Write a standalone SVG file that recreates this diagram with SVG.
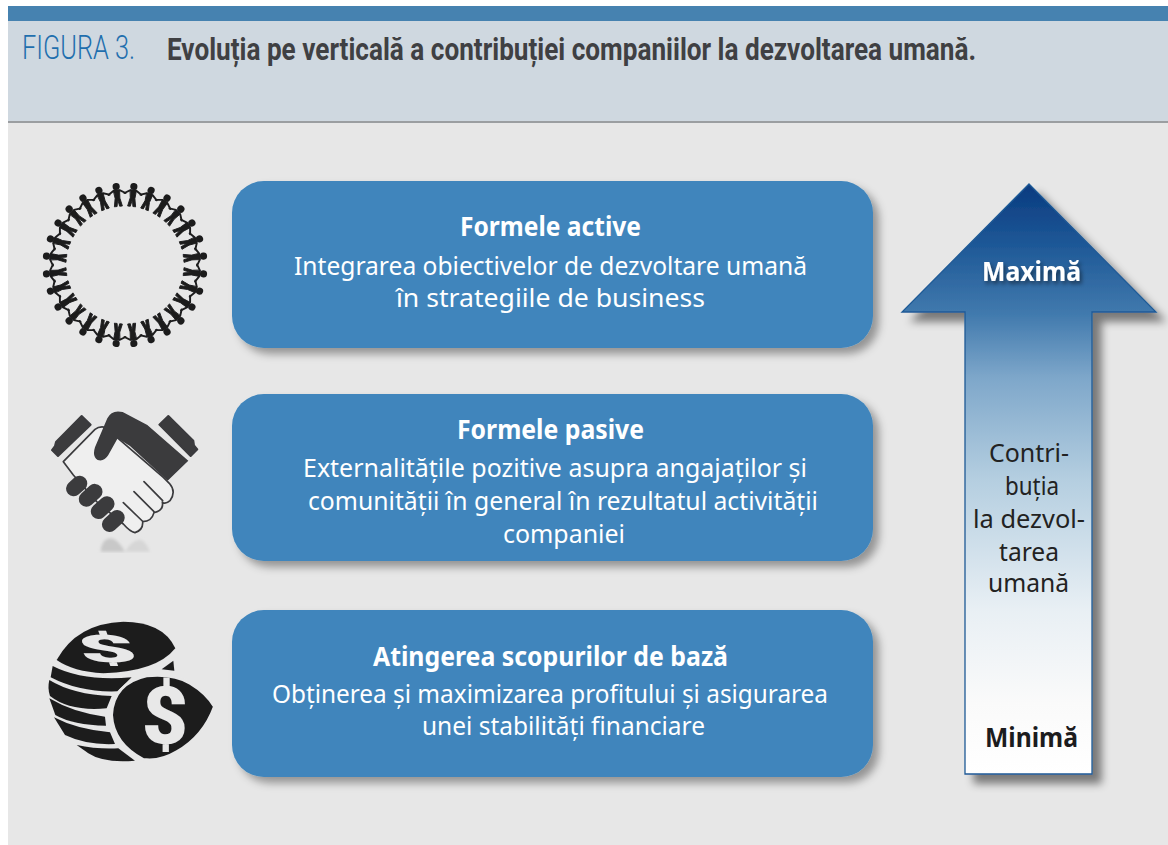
<svg xmlns="http://www.w3.org/2000/svg" xmlns:xlink="http://www.w3.org/1999/xlink" width="1168" height="845" viewBox="0 0 1168 845">
<style>
.box{fill:#3f85bc}
.b{font-family:"Noto Sans","Open Sans",sans-serif;font-size:26px;fill:#fff}
.h{font-family:"Noto Sans","Open Sans",sans-serif;font-size:26px;font-weight:700;fill:#fff}
.a{font-family:"Noto Sans","Open Sans",sans-serif;font-size:26px;fill:#222}
.m{font-family:"Noto Sans","Open Sans",sans-serif;font-size:26px;font-weight:700}
.ic{fill:#3a3a3d}
.co{fill:#1c1c1e}
</style>
<defs>
<filter id="sh" x="-10%" y="-10%" width="125%" height="130%"><feDropShadow dx="6" dy="6" stdDeviation="4" flood-color="#000" flood-opacity=".36"/></filter>
<filter id="sa" x="-15%" y="-10%" width="130%" height="125%"><feDropShadow dx="9" dy="9" stdDeviation="4.5" flood-color="#000" flood-opacity=".48"/></filter>
<filter id="ts"><feDropShadow dx="2" dy="3" stdDeviation="2" flood-color="#000" flood-opacity=".5"/></filter>
<filter id="bl"><feGaussianBlur stdDeviation=".5"/></filter>
<filter id="bl2"><feGaussianBlur stdDeviation="4"/></filter>
<linearGradient id="ag" gradientUnits="userSpaceOnUse" x1="0" y1="183" x2="0" y2="774">
<stop offset="0" stop-color="#093a7f"/><stop offset=".1" stop-color="#1d5796"/><stop offset=".22" stop-color="#4079ad"/><stop offset=".33" stop-color="#7ea7ca"/><stop offset=".5" stop-color="#b4cee0"/><stop offset=".72" stop-color="#e8eff4"/><stop offset=".88" stop-color="#fafafa"/><stop offset="1" stop-color="#fff"/>
</linearGradient>
<g id="p" fill="#1c1c1e" stroke="#1c1c1e" stroke-linecap="round" stroke-linejoin="round">
<circle cx="0" cy="-79" r="3.6" stroke="none"/>
<path d="M-8.6-71.5 L-3-75 L3-75 L8.6-71.5" fill="none" stroke-width="1.9"/>
<path d="M-3-75 L3-75 L2.4-67 L4-59 L1.3-59 L0-66 L-1.3-59 L-4-59 L-2.4-67 Z" stroke-width=".9"/>
</g>
</defs>
<rect width="1168" height="845" fill="#fff"/>
<g id="panel">
<rect x="8" y="21" width="1160" height="824" fill="#e7e7e7"/>
<rect x="8" y="6" width="1160" height="15" fill="#4682b0"/>
<rect x="8" y="21" width="1160" height="100" fill="#cfd8e0"/>
<rect x="8" y="121" width="1160" height="2" fill="#9b9ea1"/>
</g>
<g id="title">
<text x="22" y="59" font-family="Roboto,sans-serif" font-weight="300" font-size="33" fill="#1f6fae" textLength="113" lengthAdjust="spacingAndGlyphs">FIGURA 3.</text>
<text x="167" y="60" font-family="Roboto,sans-serif" font-weight="700" font-size="31" fill="#3f4043" textLength="809" lengthAdjust="spacingAndGlyphs">Evoluția pe verticală a contribuției companiilor la dezvoltarea umană.</text>
</g>
<g id="connectors"></g>
<g id="icon-people" transform="translate(125 265)" filter="url(#bl)">
<use xlink:href="#p" transform="rotate(6.43)"/><use xlink:href="#p" transform="rotate(19.29)"/><use xlink:href="#p" transform="rotate(32.14)"/><use xlink:href="#p" transform="rotate(45)"/><use xlink:href="#p" transform="rotate(57.86)"/><use xlink:href="#p" transform="rotate(70.71)"/><use xlink:href="#p" transform="rotate(83.57)"/><use xlink:href="#p" transform="rotate(96.43)"/><use xlink:href="#p" transform="rotate(109.29)"/><use xlink:href="#p" transform="rotate(122.14)"/><use xlink:href="#p" transform="rotate(135)"/><use xlink:href="#p" transform="rotate(147.86)"/><use xlink:href="#p" transform="rotate(160.71)"/><use xlink:href="#p" transform="rotate(173.57)"/><use xlink:href="#p" transform="rotate(186.43)"/><use xlink:href="#p" transform="rotate(199.29)"/><use xlink:href="#p" transform="rotate(212.14)"/><use xlink:href="#p" transform="rotate(225)"/><use xlink:href="#p" transform="rotate(237.86)"/><use xlink:href="#p" transform="rotate(250.71)"/><use xlink:href="#p" transform="rotate(263.57)"/><use xlink:href="#p" transform="rotate(276.43)"/><use xlink:href="#p" transform="rotate(289.29)"/><use xlink:href="#p" transform="rotate(302.14)"/><use xlink:href="#p" transform="rotate(315)"/><use xlink:href="#p" transform="rotate(327.86)"/><use xlink:href="#p" transform="rotate(340.71)"/><use xlink:href="#p" transform="rotate(353.57)"/>
</g>
<g id="icon-handshake" transform="translate(30 390) scale(.3333)">
<g filter="url(#bl2)" fill="#c8c8c8"><path d="M212 485 Q215 445 245 445 Q265 450 285 485Z"/><path d="M285 485 Q310 445 335 450 Q350 460 360 485Z" fill="#d6d6d6"/></g>
<g filter="url(#bl)">
<path d="M100 215 L195 118 Q208 108 226 112 L400 262 L418 280 Q440 305 420 332 Q405 345 397 336 Q402 362 372 368 Q365 395 338 395 Q340 420 315 428 Q300 425 280 402 L200 335 L130 255 Z" fill="#efefef" stroke="#3a3a3d" stroke-width="5" stroke-linejoin="round"/>
<path d="M342 275 L398 332 M312 305 L372 365 M280 338 L337 393" fill="none" stroke="#3a3a3d" stroke-width="5" stroke-linecap="round"/>
<path class="ic" stroke="#3a3a3d" stroke-width="6" stroke-linejoin="round" d="M155 78 L182 104 L84 198 L66 180 L75 168 L78 156Z"/>
<path class="ic" stroke="#3a3a3d" stroke-width="6" stroke-linejoin="round" d="M415 78 L388 104 L482 198 L502 178 L492 166 L490 152Z"/>
<path class="ic" d="M232 85 Q245 58 278 66 L352 105 L475 212 L413 272 L300 168 L263 145 L235 195 Q222 216 203 210 Q186 200 195 172 Z"/>
<g class="ic"><rect x="105" y="265" width="70" height="46" rx="23" transform="rotate(-42 140 288)"/><rect x="142" y="293" width="80" height="46" rx="23" transform="rotate(-42 182 316)"/><rect x="178" y="330" width="80" height="46" rx="23" transform="rotate(-42 218 353)"/><rect x="212" y="370" width="76" height="46" rx="23" transform="rotate(-42 250 393)"/></g>
</g>
</g>
<g id="icon-coins" transform="translate(30 600) scale(.3333)" filter="url(#bl)">
<g class="co">
<path d="M68 198 Q160 245 305 232 L262 274 Q150 278 62 232Z"/>
<path d="M58 240 Q130 284 245 288 L230 325 Q120 335 60 288 Q52 265 58 240Z"/>
<path d="M58 295 Q130 338 225 350 L228 377 Q130 376 76 345Z"/>
<path d="M72 352 Q140 388 240 397 L255 432 Q170 436 105 405Z"/>
<path d="M140 435 Q200 448 265 445 L315 482 Q220 490 175 460Z"/>
<path d="M395 208 L430 182 L433 212Z"/>
<path d="M80 180 Q140 70 280 65 Q400 65 436 145 Q380 215 220 220 Q130 215 80 180Z"/>
<path d="M245 345 Q250 250 350 228 Q430 220 480 250 Q530 280 553 320 Q520 410 440 455 Q390 485 340 478 Q250 430 245 345Z" stroke="#e7e7e7" stroke-width="8"/>
</g>
<text transform="translate(245 186) scale(2.5 .95) skewX(8)" text-anchor="middle" font-family="Roboto,sans-serif" font-weight="900" font-size="120" fill="#e8e8e8">$</text>
<text transform="translate(405 432)" text-anchor="middle" font-family="Roboto,sans-serif" font-weight="900" font-size="240" fill="#e8e8e8">$</text>
</g>
<g id="box-active">
<rect class="box" x="232" y="181" width="641" height="167" rx="32" filter="url(#sh)"/>
<text class="h" x="460" y="236" textLength="181" lengthAdjust="spacingAndGlyphs">Formele active</text>
<text class="b" x="294" y="275" textLength="513" lengthAdjust="spacingAndGlyphs">Integrarea obiectivelor de dezvoltare umană</text>
<text class="b" x="396" y="307" textLength="309" lengthAdjust="spacingAndGlyphs">în strategiile de business</text>
</g>
<g id="box-pasive">
<rect class="box" x="232" y="394" width="641" height="167" rx="32" filter="url(#sh)"/>
<text class="h" x="457" y="439" textLength="187" lengthAdjust="spacingAndGlyphs">Formele pasive</text>
<text class="b" x="303" y="477" textLength="504" lengthAdjust="spacingAndGlyphs">Externalitățile pozitive asupra angajaților și</text>
<text class="b" x="308" y="510" textLength="510" lengthAdjust="spacingAndGlyphs">comunității în general în rezultatul activității</text>
<text class="b" x="503" y="543" textLength="122" lengthAdjust="spacingAndGlyphs">companiei</text>
</g>
<g id="box-baza">
<rect class="box" x="232" y="610" width="641" height="167" rx="32" filter="url(#sh)"/>
<text class="h" x="373" y="666" textLength="355" lengthAdjust="spacingAndGlyphs">Atingerea scopurilor de bază</text>
<text class="b" x="272" y="703" textLength="556" lengthAdjust="spacingAndGlyphs">Obținerea și maximizarea profitului și asigurarea</text>
<text class="b" x="422" y="735" textLength="283" lengthAdjust="spacingAndGlyphs">unei stabilități financiare</text>
</g>
<g id="arrow">
<path d="M1029 184 L1156 312 L1092 312 L1092 774 L965 774 L965 312 L902 312 Z" fill="url(#ag)" stroke="#1f5a96" stroke-width="1.3" filter="url(#sa)"/>
<text class="m" x="982" y="281" fill="#fff" filter="url(#ts)" textLength="99" lengthAdjust="spacingAndGlyphs">Maximă</text>
<text class="a" x="989" y="462" textLength="80" lengthAdjust="spacingAndGlyphs">Contri-</text>
<text class="a" x="1005" y="495" textLength="54" lengthAdjust="spacingAndGlyphs">buția</text>
<text class="a" x="973" y="528" textLength="112" lengthAdjust="spacingAndGlyphs">la dezvol-</text>
<text class="a" x="999" y="561" textLength="60" lengthAdjust="spacingAndGlyphs">tarea</text>
<text class="a" x="988" y="592" textLength="81" lengthAdjust="spacingAndGlyphs">umană</text>
<text class="m" x="985" y="747" fill="#1c1c1e" textLength="93" lengthAdjust="spacingAndGlyphs">Minimă</text>
</g>
</svg>
